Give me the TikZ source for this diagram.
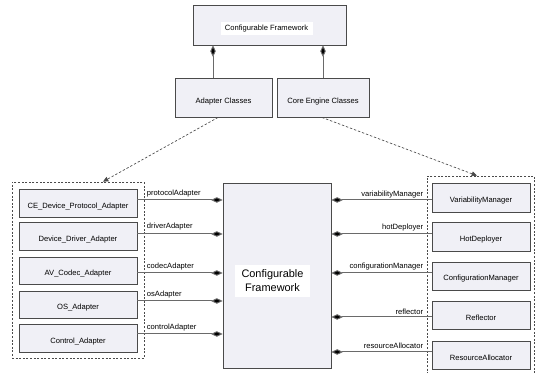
\documentclass[tikz,border=0pt]{standalone}
\usepackage{fontspec}
\setmainfont{Liberation Sans}
\usetikzlibrary{arrows.meta,shadows,fit}
\definecolor{boxfill}{HTML}{F0F0F6}
\definecolor{boxline}{HTML}{4A4A4A}
\definecolor{conn}{HTML}{6A6A6A}
\begin{document}
\begin{tikzpicture}[x=0.75pt,y=-0.75pt,
  box/.style={draw=boxline,fill=boxfill,line width=0.7pt,inner sep=0pt,
    drop shadow={shadow xshift=0.8pt,shadow yshift=-0.8pt,opacity=0.35,fill=gray}},
  grp/.style={draw=boxline,line width=0.5pt,dash pattern=on 1.5pt off 1.2pt,inner sep=0pt},
  lbl/.style={font=\fontsize{5.7}{7}\selectfont,inner sep=0.5pt},
  comp/.style={draw=conn,line width=0.75pt,{Diamond[length=8.5pt,width=4.2pt,fill=black]}-},
  dep/.style={draw=boxline,line width=0.5pt,dash pattern=on 1.8pt off 1.4pt,-{Triangle[length=4pt,width=3.6pt]}}
]
\useasboundingbox (0,0) rectangle (536,373);

% top level
\node[box,fit={(193,5)(346,45)}] (top) {};
\node[lbl,fill=white,minimum width=69pt,minimum height=9.5pt] (toplbl) at (266.5,28.5) {Configurable Framework};
\node[box,fit={(175,78)(272,117)}] (adc) {};
\node[lbl] at (223.5,102) {Adapter Classes};
\node[box,fit={(277,78)(369,117)}] (cec) {};
\node[lbl] at (323,102) {Core Engine Classes};
\draw[comp] (top.south -| 213,0) -- (adc.north -| 213,0);
\draw[comp] (top.south -| 323,0) -- (cec.north -| 323,0);

% groups
\node[grp,fit={(12,182)(144,358)}] (lgrp) {};
\node[grp,fit={(427,176)(534,385)}] (rgrp) {};
\draw[dep] (adc.south -| 218,0) -- (lgrp.north -| 103,0);
\draw[dep] (cec.south -| 322,0) -- (rgrp.north -| 477,0);

% left adapters
\node[box,fit={(19,189)(137,217)}] (a1) {};
\node[lbl] at (78,207) {CE\_Device\_Protocol\_Adapter};
\node[box,fit={(19,222)(137,250)}] (a2) {};
\node[lbl] at (78,240) {Device\_Driver\_Adapter};
\node[box,fit={(19,257)(137,284)}] (a3) {};
\node[lbl] at (78,274) {AV\_Codec\_Adapter};
\node[box,fit={(19,291)(137,318)}] (a4) {};
\node[lbl] at (78,308) {OS\_Adapter};
\node[box,fit={(19,324)(137,352)}] (a5) {};
\node[lbl] at (78,342) {Control\_Adapter};

% central
\node[box,fit={(223,183)(331,368)}] (cf) {};
\node[fill=white,inner sep=0pt,minimum width=56pt,minimum height=24pt,align=center,
  font=\fontsize{8.2}{10.5}\selectfont] (cflbl) at (272.5,281) {Configurable\\Framework};

% right managers
\node[box,fit={(432,183)(530,212)}] (r1) {};
\node[lbl] at (481,201) {VariabilityManager};
\node[box,fit={(432,222)(530,251)}] (r2) {};
\node[lbl] at (481,240) {HotDeployer};
\node[box,fit={(432,262)(530,290)}] (r3) {};
\node[lbl] at (481,279) {ConfigurationManager};
\node[box,fit={(432,301)(530,329)}] (r4) {};
\node[lbl] at (481,318) {Reflector};
\node[box,fit={(432,341)(530,369)}] (r5) {};
\node[lbl] at (481,358) {ResourceAllocator};

% left connectors
\draw[comp] (cf.west |- 0,200) -- (a1.east |- 0,200);
\draw[comp] (cf.west |- 0,234) -- (a2.east |- 0,234);
\draw[comp] (cf.west |- 0,273) -- (a3.east |- 0,273);
\draw[comp] (cf.west |- 0,301) -- (a4.east |- 0,301);
\draw[comp] (cf.west |- 0,334) -- (a5.east |- 0,334);
\node[lbl,anchor=west] at (146,194) {protocolAdapter};
\node[lbl,anchor=west] at (146,227) {driverAdapter};
\node[lbl,anchor=west] at (146,267) {codecAdapter};
\node[lbl,anchor=west] at (146,295) {osAdapter};
\node[lbl,anchor=west] at (146,328) {controlAdapter};

% right connectors
\draw[comp] (cf.east |- 0,200) -- (r1.west |- 0,200);
\draw[comp] (cf.east |- 0,234) -- (r2.west |- 0,234);
\draw[comp] (cf.east |- 0,273) -- (r3.west |- 0,273);
\draw[comp] (cf.east |- 0,317) -- (r4.west |- 0,317);
\draw[comp] (cf.east |- 0,352) -- (r5.west |- 0,352);
\node[lbl,anchor=east] at (424,195) {variabilityManager};
\node[lbl,anchor=east] at (424,228) {hotDeployer};
\node[lbl,anchor=east] at (424,267) {configurationManager};
\node[lbl,anchor=east] at (424,312) {reflector};
\node[lbl,anchor=east] at (424,346) {resourceAllocator};
\end{tikzpicture}
\end{document}
